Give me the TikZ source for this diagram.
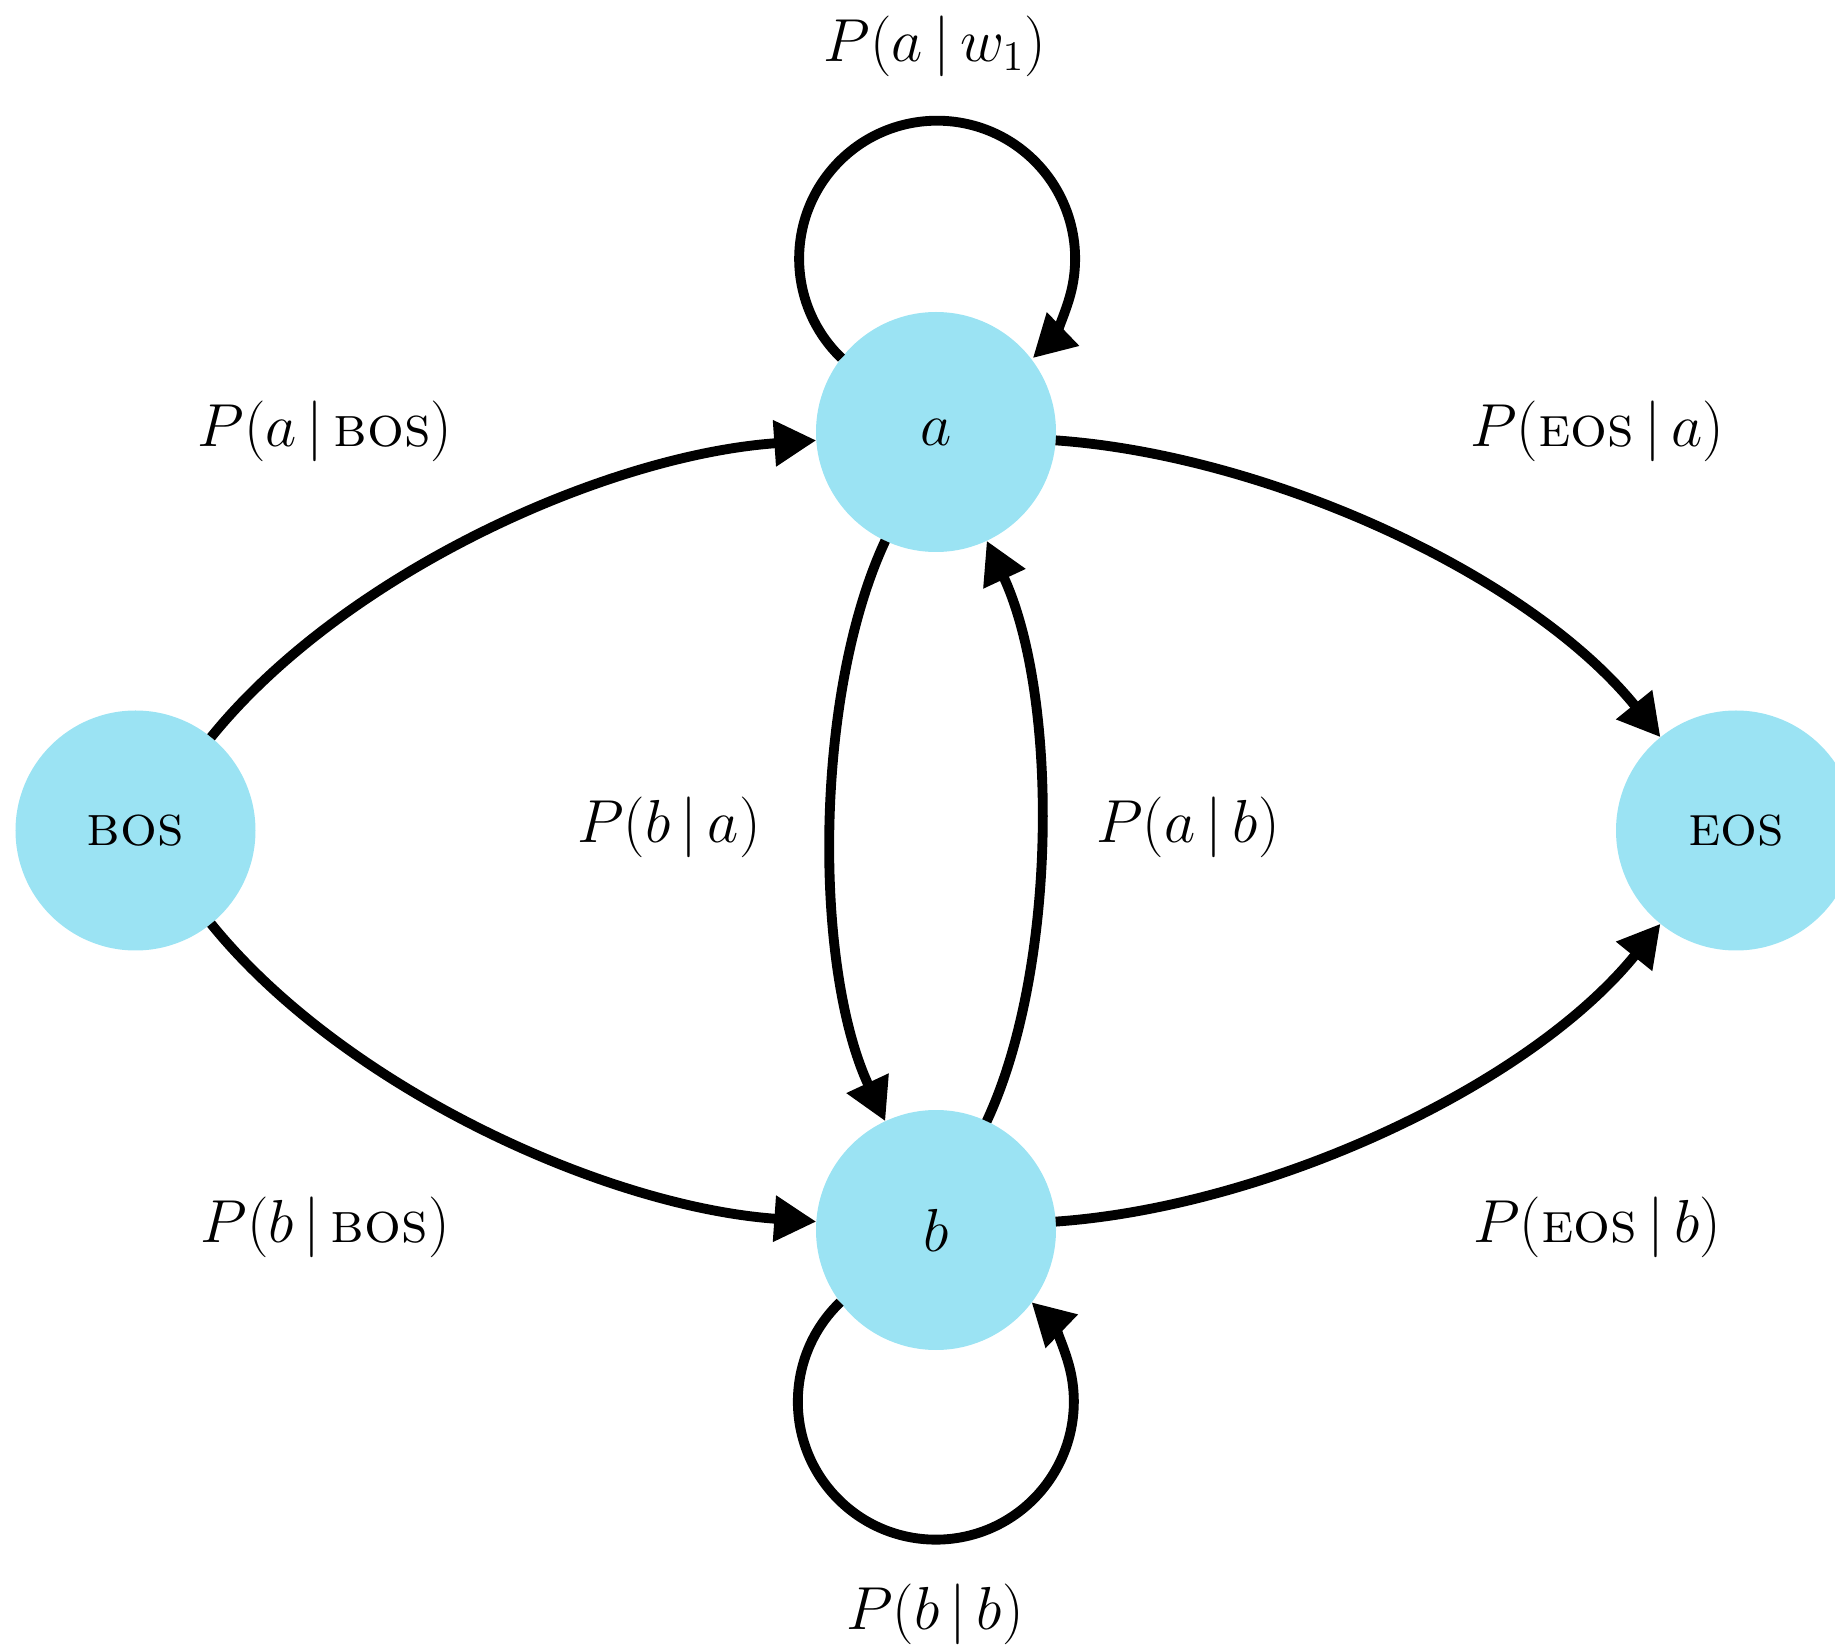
\documentclass[tikz,border=0pt]{standalone}
\usepackage{amsmath}
\usetikzlibrary{arrows.meta, positioning}
\tikzset{>={Triangle[length=4.2mm, width=4.4mm]}}
\definecolor{stateblue}{RGB}{155,227,243}
\tikzset{
  state/.style={circle, fill=stateblue, minimum size=2.4cm, inner sep=0pt, outer sep=0pt, font=\fontsize{17}{20}\selectfont},
  endstate/.style={state, font=\fontsize{16.5}{19}\selectfont},
  trans/.style={->, line width=2.8pt},
  prob/.style={font=\fontsize{16.5}{20}\selectfont}
}

\begin{document}
\begin{tikzpicture}
\useasboundingbox (0,0) rectangle (18.35,16.5);

% States
\node[state] (a) at (9.36,12.18) {$a$};
\node[state] (b) at (9.36,4.20) {$b$};
\node[endstate] (bos) at (1.355,8.195) {\textsc{bos}};
\node[endstate] (eos) at (17.36,8.195) {\textsc{eos}};

% Transitions between states
\draw[trans] (bos) to[out=51, in=184, looseness=0.8] (a);
\draw[trans] (bos) to[out=-51, in=176, looseness=0.8] (b);
\draw[trans] (a) to[out=-4, in=129, looseness=0.8] (eos);
\draw[trans] (b) to[out=4, in=231, looseness=0.8] (eos);
\draw[trans] (a) to[bend right=25, looseness=0.75] (b);
\draw[trans] (b) to[bend right=25, looseness=0.75] (a);

% Self loops
\draw[trans] (a.142.8) arc[start angle=226.1, end angle=-46.1, radius=1.38];
\draw[trans] (b.217.2) arc[start angle=133.9, end angle=406.1, radius=1.38];

% Probabilities
\node[prob] (p-a-w) at (9.35,16.04) {$P(a\,|\,w_1)$};
\node[prob] (p-a-bos) at (3.25,12.19) {$P(a\,|\,\textsc{bos})$};
\node[prob] (p-eos-a) at (15.97,12.19) {$P(\textsc{eos}\,|\,a)$};
\node[prob] (p-b-a) at (6.69,8.23) {$P(b\,|\,a)$};
\node[prob] (p-a-b) at (11.88,8.23) {$P(a\,|\,b)$};
\node[prob] (p-b-bos) at (3.25,4.23) {$P(b\,|\,\textsc{bos})$};
\node[prob] (p-eos-b) at (15.97,4.23) {$P(\textsc{eos}\,|\,b)$};
\node[prob] (p-b-b) at (9.35,0.36) {$P(b\,|\,b)$};

\end{tikzpicture}
\end{document}
